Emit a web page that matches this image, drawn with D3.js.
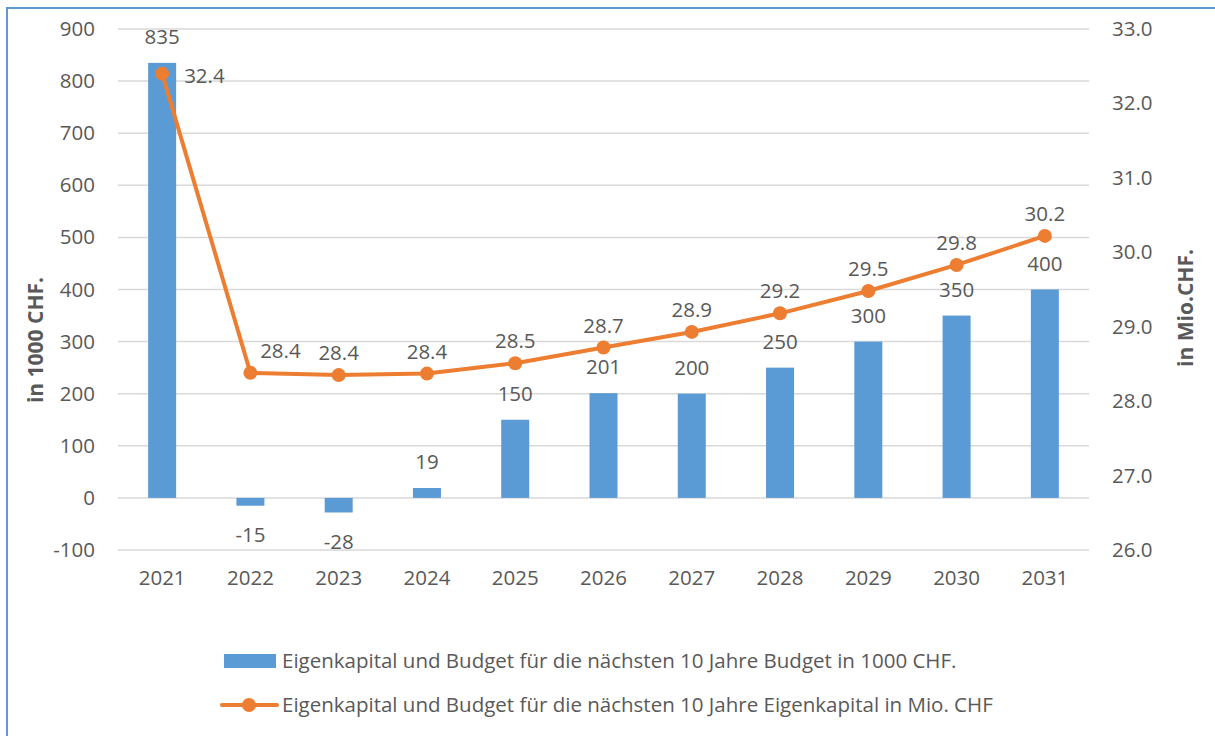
<!DOCTYPE html>
<html><head><meta charset="utf-8">
<script src="https://cdn.jsdelivr.net/npm/d3@7"></script>
<style>body{margin:0;background:#fff;} text{font-family:"Open Sans",Lato,sans-serif;fill:#595959;}</style>
</head><body>
<svg id="c" width="1215" height="736"></svg>
<script>
const years = ["2021","2022","2023","2024","2025","2026","2027","2028","2029","2030","2031"];
const budget = [835,-15,-28,19,150,201,200,250,300,350,400];
const equity = [32.4,28.38,28.35,28.37,28.51,28.72,28.93,29.18,29.48,29.83,30.22];
const leftTicks = [-100,0,100,200,300,400,500,600,700,800,900];
const rightTicks = [26,27,28,29,30,31,32,33];
const legendLabels = ["Eigenkapital und Budget für die nächsten 10 Jahre Budget in 1000 CHF.",
                      "Eigenkapital und Budget für die nächsten 10 Jahre Eigenkapital in Mio. CHF"];

const FS = "20.5px";
const svg = d3.select("#c");
const L=118, R=1089, T=29, B=550;
const x = d3.scaleBand().domain(years).range([L,R]);
const yL = d3.scaleLinear().domain([-100,900]).range([B,T]);
const yR = d3.scaleLinear().domain([26,33]).range([B,T]);

// border
svg.append("path").attr("d","M7,736V8H1215").attr("fill","none").attr("stroke","#5b9bd5").attr("stroke-width",2);

// grid
svg.append("g").selectAll("line").data(leftTicks).join("line")
  .attr("x1",L).attr("x2",R).attr("y1",d=>yL(d)).attr("y2",d=>yL(d))
  .attr("stroke","#d9d9d9").attr("stroke-width",1.5);

// left axis
const ga = svg.append("g").attr("transform",`translate(${L},0)`)
  .call(d3.axisLeft(yL).tickValues(leftTicks).tickSize(0).tickPadding(23).tickFormat(d=>String(d)));
ga.select(".domain").remove();
ga.selectAll("text").style("font-size",FS).attr("fill","#595959");

const gr = svg.append("g").attr("transform",`translate(${R},0)`)
  .call(d3.axisRight(yR).tickValues(rightTicks).tickSize(0).tickPadding(23).tickFormat(d3.format(".1f")));
gr.select(".domain").remove();
gr.selectAll("text").style("font-size",FS).attr("fill","#595959");

const gx = svg.append("g").attr("transform",`translate(0,${B})`)
  .call(d3.axisBottom(x).tickSize(0).tickPadding(20));
gx.select(".domain").remove();
gx.selectAll("text").style("font-size",FS).attr("fill","#595959");

// bars
const bw = 28;
svg.append("g").selectAll("rect").data(budget).join("rect")
  .attr("x",(d,i)=>x(years[i])+x.bandwidth()/2-bw/2)
  .attr("width",bw)
  .attr("y",d=>yL(Math.max(0,d)))
  .attr("height",d=>Math.abs(yL(d)-yL(0)))
  .attr("fill","#5b9bd5");

svg.append("g").selectAll("text").data(budget).join("text")
  .attr("x",(d,i)=>x(years[i])+x.bandwidth()/2)
  .attr("y",d=> d>=0 ? yL(d)-26 : yL(d)+29)
  .attr("dy","0.35em").attr("text-anchor","middle")
  .style("font-size",FS).text(d=>String(d));

// line
const cx = (i)=>x(years[i])+x.bandwidth()/2;
const line = d3.line().x((d,i)=>cx(i)).y(d=>yR(d));
svg.append("path").datum(equity).attr("d",line).attr("fill","none")
  .attr("stroke","#ed7d31").attr("stroke-width",4).attr("stroke-linejoin","round");
svg.append("g").selectAll("circle").data(equity).join("circle")
  .attr("cx",(d,i)=>cx(i)).attr("cy",d=>yR(d)).attr("r",7).attr("fill","#ed7d31");

svg.append("g").selectAll("text").data(equity).join("text")
  .attr("x",(d,i)=> i===0 ? cx(i)+22 : (i===1 ? cx(i)+30 : cx(i)))
  .attr("y",(d,i)=> i===0 ? yR(d)+2 : yR(d)-22)
  .attr("dy","0.35em").attr("text-anchor",(d,i)=> i===0 ? "start":"middle")
  .style("font-size",FS).text(d=>d3.format(".1f")(d));

// axis titles
svg.append("text").attr("transform","translate(36,340) rotate(-90)")
  .attr("text-anchor","middle").attr("dy","0.35em").style("font-size","21px").style("font-weight","bold").text("in 1000 CHF.");
svg.append("text").attr("transform","translate(1186,308) rotate(-90)")
  .attr("text-anchor","middle").attr("dy","0.35em").style("font-size","21px").style("font-weight","bold").text("in Mio.CHF.");

// legend
const lg = svg.append("g");
lg.append("rect").attr("x",224).attr("y",654).attr("width",52).attr("height",14).attr("fill","#5b9bd5");
lg.append("line").attr("x1",222).attr("x2",277).attr("y1",705).attr("y2",705).attr("stroke","#ed7d31").attr("stroke-width",4).attr("stroke-linecap","round");
lg.append("circle").attr("cx",249).attr("cy",705).attr("r",7).attr("fill","#ed7d31");
lg.selectAll("text.l").data(legendLabels).join("text").attr("class","l")
  .attr("x",282).attr("y",(d,i)=>i===0?661:705).attr("dy","0.35em")
  .style("font-size",FS).text(d=>d);
</script>
</body></html>
